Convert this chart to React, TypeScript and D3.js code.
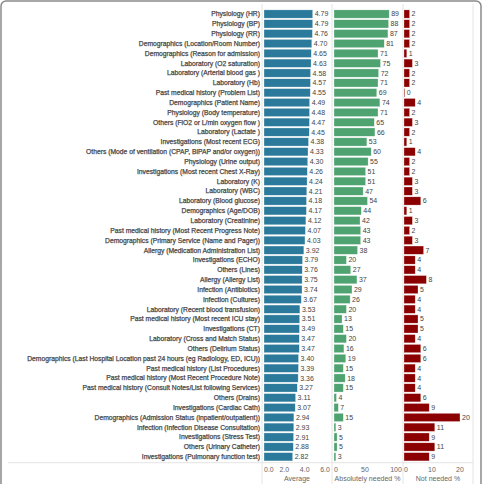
import React from 'react';
import * as d3 from 'd3';

const labels = [
  'Physiology (HR)', 'Physiology (BP)', 'Physiology (RR)', 'Demographics (Location/Room Number)',
  'Demographics (Reason for admission)', 'Laboratory (O2 saturation)', 'Laboratory (Arterial blood gas )',
  'Laboratory (Hb)', 'Past medical history (Problem List)', 'Demographics (Patient Name)',
  'Physiology (Body temperature)', 'Others (FiO2 or L/min oxygen flow )', 'Laboratory (Lactate )',
  'Investigations (Most recent ECG)', 'Others (Mode of ventilation (CPAP, BiPAP and/or oxygen))',
  'Physiology (Urine output)', 'Investigations (Most recent Chest X-Ray)', 'Laboratory (K)',
  'Laboratory (WBC)', 'Laboratory (Blood glucose)', 'Demographics (Age/DOB)', 'Laboratory (Creatinine)',
  'Past medical history (Most Recent Progress Note)', 'Demographics (Primary Service (Name and Pager))',
  'Allergy (Medication Administration List)', 'Investigations (ECHO)', 'Others (Lines)',
  'Allergy (Allergy List)', 'Infection (Antibiotics)', 'Infection (Cultures)',
  'Laboratory (Recent blood transfusion)', 'Past medical history (Most recent ICU stay)',
  'Investigations (CT)', 'Laboratory (Cross and Match Status)', 'Others (Delirium Status)',
  'Demographics (Last Hospital Location past 24 hours (eg Radiology, ED, ICU))',
  'Past medical history (List Procedures)', 'Past medical history (Most Recent Procedure Note)',
  'Past medical history (Consult Notes/List following Services)', 'Others (Drains)',
  'Investigations (Cardiac Cath)', 'Demographics (Admission Status (inpatient/outpatient))',
  'Infection (Infection Disease Consultation)', 'Investigations (Stress Test)',
  'Others (Urinary Catheter)', 'Investigations (Pulmonary function test)',
];

const average = [
  4.79, 4.79, 4.76, 4.70, 4.65, 4.63, 4.58, 4.57, 4.55, 4.49, 4.48, 4.47, 4.45, 4.38, 4.33, 4.30,
  4.26, 4.24, 4.21, 4.18, 4.17, 4.12, 4.07, 4.03, 3.92, 3.79, 3.76, 3.75, 3.74, 3.67, 3.53, 3.51,
  3.49, 3.47, 3.47, 3.40, 3.39, 3.36, 3.27, 3.11, 3.07, 2.94, 2.93, 2.91, 2.88, 2.82,
];

const absNeeded = [
  89, 88, 87, 81, 71, 75, 72, 71, 69, 74, 71, 65, 66, 53, 60, 55, 51, 51, 47, 54, 44, 42, 43, 43,
  38, 20, 27, 37, 29, 26, 20, 13, 15, 20, 16, 19, 15, 18, 15, 4, 7, 15, 3, 5, 5, 3,
];

const notNeeded = [
  2, 2, 2, 2, 1, 3, 2, 2, 0, 4, 2, 3, 2, 1, 4, 2, 2, 3, 3, 6, 1, 3, 2, 3, 7, 4, 4, 8, 5, 4, 4, 5,
  5, 4, 6, 6, 4, 4, 4, 6, 9, 20, 11, 9, 11, 9,
];

const avgTicks = [0, 2, 4, 6];
const absTicks = [0, 50, 100];
const notTicks = [0, 10, 20];

const W = 483;
const H = 484;
const font = 'Liberation Sans, Arial, sans-serif';

export default function App() {
  const y = d3.scaleBand<string>().domain(labels).range([9.1, 461.7]).paddingInner(0.16).paddingOuter(0.08);
  const xAvg = d3.scaleLinear().domain([0, 6]).range([264, 325]);
  const xAbs = d3.scaleLinear().domain([0, 100]).range([334, 396]);
  const xNot = d3.scaleLinear().domain([0, 20]).range([404, 460]);

  const panels = [
    { values: average, x: xAvg, color: '#2b7a9b', fmt: d3.format('.2f'), ticks: avgTicks, tfmt: d3.format('.1f'), title: 'Average', left: 262, right: 332 },
    { values: absNeeded, x: xAbs, color: '#4ea371', fmt: d3.format('d'), ticks: absTicks, tfmt: d3.format('d'), title: 'Absolutely needed %', left: 332, right: 403 },
    { values: notNeeded, x: xNot, color: '#8b0000', fmt: d3.format('d'), ticks: notTicks, tfmt: d3.format('d'), title: 'Not needed %', left: 403, right: 473 },
  ];

  const bh = y.bandwidth();

  return (
    <svg width={W} height={H} style={{ position: 'absolute', left: 0, top: 0, background: '#fff' }}>
      <rect x={1} y={1} width={480} height={500} rx={5} fill="#fff" stroke="#8a8a8a" strokeWidth={1.5} />
      {[262, 332, 403, 473].map((lx) => (
        <line key={lx} x1={lx} x2={lx} y1={4} y2={H} stroke="#e4e4e4" strokeWidth={1} />
      ))}
      <line x1={8} x2={473} y1={462.7} y2={462.7} stroke="#e4e4e4" strokeWidth={1} />
      {labels.map((lab) => (
        <text key={lab} x={260} y={(y(lab) ?? 0) + bh / 2} dy="0.35em" textAnchor="end" fontFamily={font} fontSize={6.75} fill="#474747" stroke="#474747" strokeWidth={0.25}>
          {lab}
        </text>
      ))}
      {panels.map((p) => (
        <g key={p.title}>
          {p.values.map((v, i) => {
            const yy = y(labels[i]) ?? 0;
            const x0 = p.x(0);
            const w = Math.max(p.x(v) - x0, 0.8);
            return (
              <g key={i}>
                <rect x={x0} y={yy} width={w} height={bh} fill={p.color} stroke="#fff" strokeOpacity={0.6} strokeWidth={0.5} />
                <text x={x0 + w + 2} y={yy + bh / 2} dy="0.35em" fontFamily={font} fontSize={7} fill="#444">
                  {p.fmt(v)}
                </text>
              </g>
            );
          })}
          {p.ticks.map((t, i) => (
            <text key={t} x={p.x(t)} y={470} dy="0.35em" textAnchor={i === 0 ? 'start' : 'middle'} fontFamily={font} fontSize={7} fill="#666">
              {p.tfmt(t)}
            </text>
          ))}
          <text x={(p.left + p.right) / 2} y={479} dy="0.35em" textAnchor="middle" fontFamily={font} fontSize={7} fill="#666">
            {p.title}
          </text>
        </g>
      ))}
    </svg>
  );
}
